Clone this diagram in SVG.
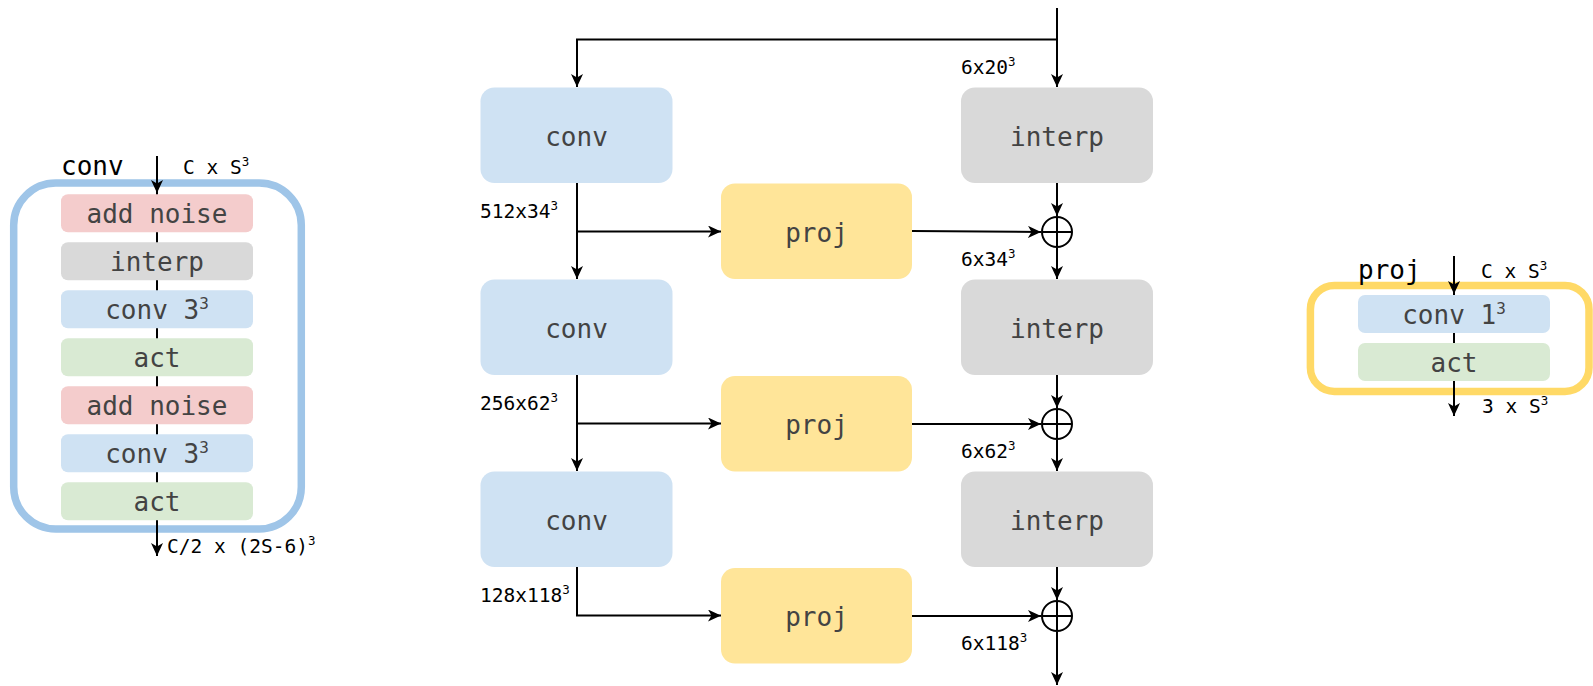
<svg xmlns="http://www.w3.org/2000/svg" width="1593" height="686" viewBox="0 0 1593 686">
<style>
.box{stroke:none}
.blue{fill:#cfe2f3}.gray{fill:#d9d9d9}.yellow{fill:#ffe599}.pink{fill:#f4cccc}.green{fill:#d9ead3}
.bt{font-family:"DejaVu Sans Mono",monospace;font-size:26px;fill:#434343;text-anchor:middle}
.lb{font-family:"DejaVu Sans Mono",monospace;font-size:19.5px;fill:#000}
.tt{font-family:"DejaVu Sans Mono",monospace;font-size:26px;fill:#000}
.sup{font-size:12.5px}
.bsup{font-size:16px}
.ln{stroke:#000;stroke-width:2;fill:none}
.ar{stroke:#000;stroke-width:2;fill:none;marker-end:url(#ah)}
.op{stroke:#000;stroke-width:2;fill:#fff}
</style>
<defs>
<marker id="ah" markerUnits="userSpaceOnUse" markerWidth="14" markerHeight="12" refX="13" refY="6" orient="auto">
<path d="M0,0 L13,6 L0,12 L3.5,6 z" fill="#000"/>
</marker>
</defs>
<rect width="1593" height="686" fill="#fff"/>

<!-- left panel: conv block detail -->
<g id="conv-detail">
<rect x="13.7" y="183" width="287.6" height="346" rx="42" fill="none" stroke="#9fc5e8" stroke-width="7.5"/>
<line class="ln" x1="157" y1="156" x2="157" y2="540"/>
<line class="ar" x1="157" y1="156" x2="157" y2="193"/>
<line class="ar" x1="157" y1="519" x2="157" y2="556"/>
<text class="tt" x="61" y="175">conv</text>
<text class="lb" x="183" y="174">C x S<tspan class="sup" dy="-8">3</tspan></text>
<text class="lb" x="167" y="553">C/2 x (2S-6)<tspan class="sup" dy="-8">3</tspan></text>
</g>
<g id="cd-addnoise1"><rect class="box pink" x="61" y="194.3" width="192" height="38" rx="7"/><text class="bt" x="157" y="223">add noise</text></g>
<g id="cd-interp"><rect class="box gray" x="61" y="242.3" width="192" height="38" rx="7"/><text class="bt" x="157" y="271">interp</text></g>
<g id="cd-conv1"><rect class="box blue" x="61" y="290.3" width="192" height="38" rx="7"/><text class="bt" x="157" y="319">conv 3<tspan class="bsup" dy="-10">3</tspan></text></g>
<g id="cd-act1"><rect class="box green" x="61" y="338.3" width="192" height="38" rx="7"/><text class="bt" x="157" y="367">act</text></g>
<g id="cd-addnoise2"><rect class="box pink" x="61" y="386.3" width="192" height="38" rx="7"/><text class="bt" x="157" y="415">add noise</text></g>
<g id="cd-conv2"><rect class="box blue" x="61" y="434.3" width="192" height="38" rx="7"/><text class="bt" x="157" y="463">conv 3<tspan class="bsup" dy="-10">3</tspan></text></g>
<g id="cd-act2"><rect class="box green" x="61" y="482.3" width="192" height="38" rx="7"/><text class="bt" x="157" y="511">act</text></g>

<!-- right panel: proj detail -->
<g id="proj-detail">
<rect x="1310.4" y="285.4" width="278.6" height="106" rx="24" fill="none" stroke="#ffd966" stroke-width="7.5"/>
<line class="ln" x1="1454" y1="256" x2="1454" y2="400"/>
<line class="ar" x1="1454" y1="256" x2="1454" y2="294"/>
<line class="ar" x1="1454" y1="381" x2="1454" y2="416"/>
<text class="tt" x="1358" y="279">proj</text>
<text class="lb" x="1481" y="278">C x S<tspan class="sup" dy="-8">3</tspan></text>
<text class="lb" x="1482" y="413">3 x S<tspan class="sup" dy="-8">3</tspan></text>
</g>
<g id="pd-conv"><rect class="box blue" x="1358" y="295" width="192" height="38" rx="7"/><text class="bt" x="1454" y="324">conv 1<tspan class="bsup" dy="-10">3</tspan></text></g>
<g id="pd-act"><rect class="box green" x="1358" y="343" width="192" height="38" rx="7"/><text class="bt" x="1454" y="372">act</text></g>

<!-- main diagram connectors -->
<g id="connectors">
<line class="ar" x1="1057" y1="8" x2="1057" y2="87"/>
<polyline class="ar" points="1057,39.5 577,39.5 577,87"/>
<line class="ar" x1="577" y1="183" x2="577" y2="279"/>
<line class="ar" x1="577" y1="231.5" x2="721" y2="231.5"/>
<line class="ar" x1="912" y1="231" x2="1041" y2="232"/>
<line class="ar" x1="1057" y1="183" x2="1057" y2="216"/>
<line class="ar" x1="1057" y1="248" x2="1057" y2="279"/>

<line class="ar" x1="577" y1="375" x2="577" y2="471"/>
<line class="ar" x1="577" y1="423.5" x2="721" y2="423.5"/>
<line class="ar" x1="912" y1="424" x2="1041" y2="424"/>
<line class="ar" x1="1057" y1="375" x2="1057" y2="408"/>
<line class="ar" x1="1057" y1="440" x2="1057" y2="471"/>

<polyline class="ar" points="577,567 577,615.5 721,615.5"/>
<line class="ar" x1="912" y1="616" x2="1041" y2="616"/>
<line class="ar" x1="1057" y1="567" x2="1057" y2="600"/>
<line class="ar" x1="1057" y1="632" x2="1057" y2="685"/>
</g>

<!-- main nodes -->
<g id="conv1"><rect class="box blue" x="480.5" y="87.5" width="192" height="95.5" rx="14"/><text class="bt" x="576.5" y="146">conv</text></g>
<g id="conv2"><rect class="box blue" x="480.5" y="279.5" width="192" height="95.5" rx="14"/><text class="bt" x="576.5" y="338">conv</text></g>
<g id="conv3"><rect class="box blue" x="480.5" y="471.5" width="192" height="95.5" rx="14"/><text class="bt" x="576.5" y="530">conv</text></g>

<g id="interp1"><rect class="box gray" x="961" y="87.5" width="192" height="95.5" rx="14"/><text class="bt" x="1057" y="146">interp</text></g>
<g id="interp2"><rect class="box gray" x="961" y="279.5" width="192" height="95.5" rx="14"/><text class="bt" x="1057" y="338">interp</text></g>
<g id="interp3"><rect class="box gray" x="961" y="471.5" width="192" height="95.5" rx="14"/><text class="bt" x="1057" y="530">interp</text></g>

<g id="proj1"><rect class="box yellow" x="721" y="183.5" width="191" height="95.5" rx="14"/><text class="bt" x="816.5" y="242">proj</text></g>
<g id="proj2"><rect class="box yellow" x="721" y="376" width="191" height="95.5" rx="14"/><text class="bt" x="816.5" y="434">proj</text></g>
<g id="proj3"><rect class="box yellow" x="721" y="568" width="191" height="95.5" rx="14"/><text class="bt" x="816.5" y="626">proj</text></g>

<g id="sum1"><circle class="op" cx="1057" cy="232" r="15"/><path class="ln" d="M1042,232 H1072 M1057,217 V247"/></g>
<g id="sum2"><circle class="op" cx="1057" cy="424" r="15"/><path class="ln" d="M1042,424 H1072 M1057,409 V439"/></g>
<g id="sum3"><circle class="op" cx="1057" cy="616" r="15"/><path class="ln" d="M1042,616 H1072 M1057,601 V631"/></g>

<!-- size labels -->
<g id="labels">
<text class="lb" x="480" y="218">512x34<tspan class="sup" dy="-8">3</tspan></text>
<text class="lb" x="480" y="410">256x62<tspan class="sup" dy="-8">3</tspan></text>
<text class="lb" x="480" y="602">128x118<tspan class="sup" dy="-8">3</tspan></text>
<text class="lb" x="961" y="74">6x20<tspan class="sup" dy="-8">3</tspan></text>
<text class="lb" x="961" y="266">6x34<tspan class="sup" dy="-8">3</tspan></text>
<text class="lb" x="961" y="458">6x62<tspan class="sup" dy="-8">3</tspan></text>
<text class="lb" x="961" y="650">6x118<tspan class="sup" dy="-8">3</tspan></text>
</g>
</svg>
